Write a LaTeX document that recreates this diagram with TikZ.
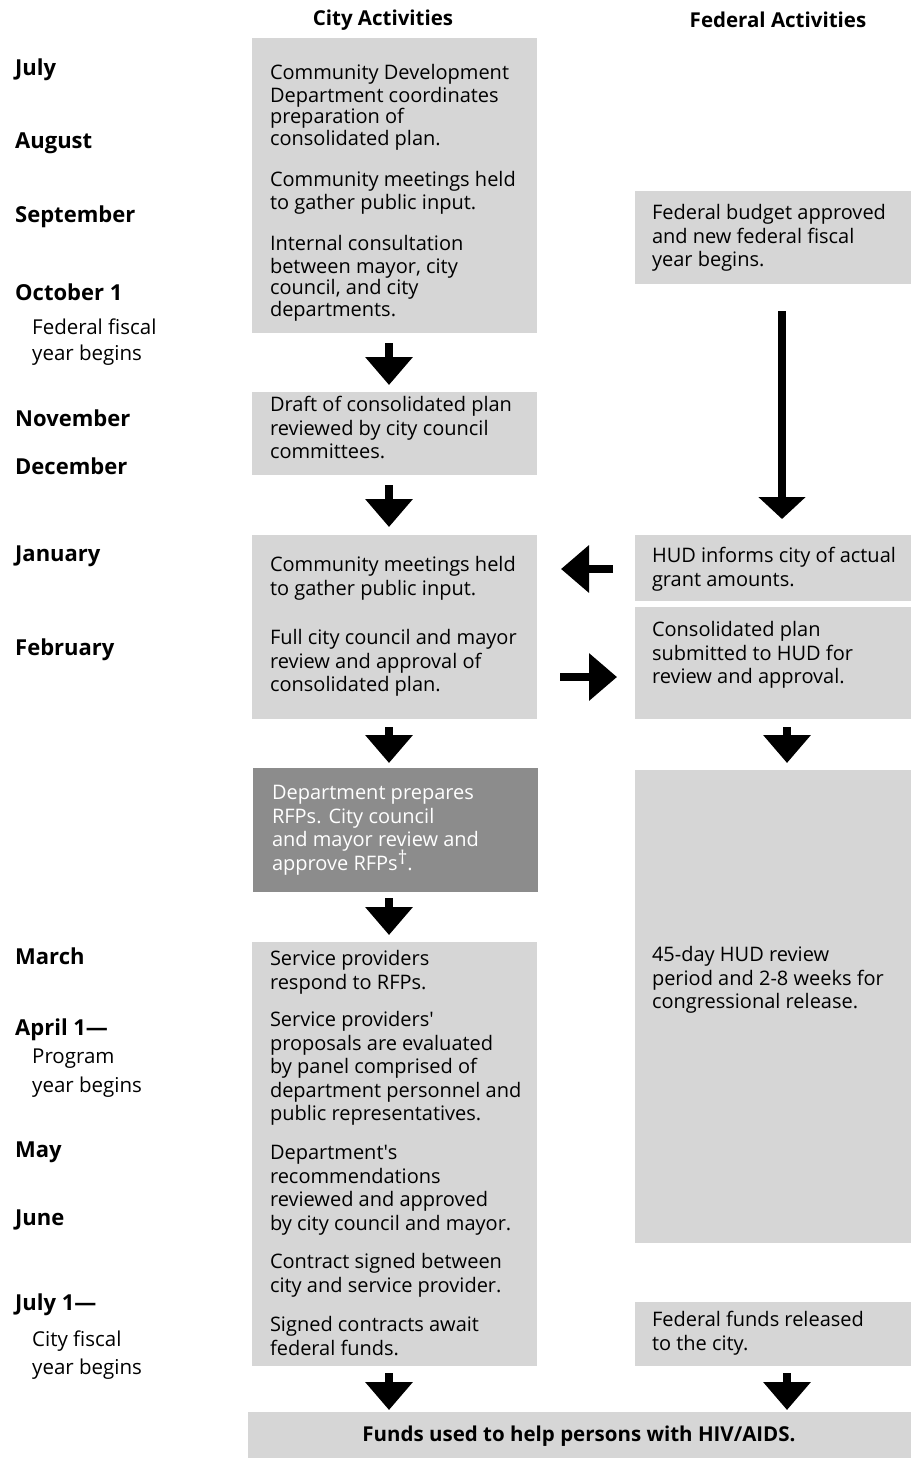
\documentclass[tikz,border=0pt]{standalone}
\usepackage{fontspec}
\setmainfont{Open Sans}
\usetikzlibrary{arrows.meta}
\definecolor{boxgray}{HTML}{D6D6D6}
\definecolor{darkbox}{HTML}{8C8C8C}
\tikzset{
  gbox/.style={fill=boxgray, draw=none, inner sep=0pt, outer sep=0pt, anchor=north west},
  dbox/.style={gbox, fill=darkbox},
  txtbase/.style={anchor=north west, inner sep=0pt, outer sep=0pt, align=left},
  txt/.style={txtbase, yshift=9.5pt, font=\fontsize{20}{23.5}\selectfont},
  txttight/.style={txtbase, yshift=8.5pt, font=\fontsize{20}{21.5}\selectfont},
  month/.style={anchor=west, inner sep=0pt, font=\fontsize{22}{24}\selectfont\bfseries},
  sublabel/.style={anchor=west, inner sep=0pt, font=\fontsize{20.5}{24}\selectfont},
  header/.style={inner sep=0pt, font=\fontsize{20.5}{24}\selectfont\bfseries},
  bigarrow/.style={line width=8pt, -{Triangle[width=46pt,length=28pt]}},
}
\begin{document}
\begin{tikzpicture}[x=1pt,y=-1pt]
\useasboundingbox (0,0) rectangle (911,1458);
% headers
\node[header] (hcity) at (383,20) {City Activities};
\node[header] (hfed) at (778,20) {Federal Activities};
% months
\node[month] (m1) at (15,70) {July};
\node[month] (m2) at (15,143) {August};
\node[month] (m3) at (15,217) {September};
\node[month] (m4) at (15,292) {October 1};
\node[sublabel] (s4a) at (32,327) {Federal fiscal};
\node[sublabel] (s4b) at (32,355) {year begins};
\node[month] (m5) at (15,418) {November};
\node[month] (m6) at (15,466) {December};
\node[month] (m7) at (15,556) {January};
\node[month] (m8) at (15,650) {February};
\node[month] (m9) at (15,956) {March};
\node[month] (m10) at (15,1030) {April 1—};
\node[sublabel] (s10a) at (32,1059) {Program};
\node[sublabel] (s10b) at (32,1087) {year begins};
\node[month] (m11) at (15,1152) {May};
\node[month] (m12) at (15,1220) {June};
\node[month] (m13) at (15,1305) {July 1—};
\node[sublabel] (s13a) at (32,1341) {City fiscal};
\node[sublabel] (s13b) at (32,1369) {year begins};
% city boxes
\node[gbox, minimum width=285pt, minimum height=295pt] (c1) at (252,38) {};
\node[gbox, minimum width=285pt, minimum height=83pt] (c2) at (252,392) {};
\node[gbox, minimum width=285pt, minimum height=184pt] (c3) at (252,535) {};
\node[dbox, minimum width=285pt, minimum height=124pt] (c4) at (253,768) {};
\node[gbox, minimum width=285pt, minimum height=424pt] (c5) at (252,942) {};
% federal boxes
\node[gbox, minimum width=276pt, minimum height=93pt] (f1) at (635,191) {};
\node[gbox, minimum width=276pt, minimum height=66pt] (f2) at (635,535) {};
\node[gbox, minimum width=276pt, minimum height=112pt] (f3) at (635,607) {};
\node[gbox, minimum width=276pt, minimum height=473pt] (f4) at (635,770) {};
\node[gbox, minimum width=276pt, minimum height=64pt] (f5) at (635,1302) {};
% bottom box
\node[gbox, minimum width=663pt, minimum height=46pt] (bot) at (248,1412) {};
\node[inner sep=0pt, font=\fontsize{20.5}{22}\selectfont\bfseries] (bott) at (579,1436) {Funds used to help persons with HIV/AIDS.};
% city texts
\node[txttight] (t1a) at (270,73) {\strut Community Development\\Department coordinates\\preparation of\\consolidated plan.};
\node[txttight] (t1b) at (270,180) {\strut Community meetings held\\to gather public input.};
\node[txttight] (t1c) at (270,244) {\strut Internal consultation\\between mayor, city\\council, and city\\departments.};
\node[txt] (t2) at (270,405) {\strut Draft of consolidated plan\\reviewed by city council\\committees.};
\node[txt] (t3a) at (270,565) {\strut Community meetings held\\to gather public input.};
\node[txt] (t3b) at (270,638) {\strut Full city council and mayor\\review and approval of\\consolidated plan.};
\node[txt, text=white] (t4) at (272,793) {\strut Department prepares\\RFPs. City council\\and mayor review and\\approve RFPs\smash{\raisebox{6pt}{\fontsize{19}{19}\selectfont\dag}}.};
\node[txt] (t5a) at (270,959) {\strut Service providers\\respond to RFPs.};
\node[txt] (t5b) at (270,1020) {\strut Service providers\textquotesingle\\proposals are evaluated\\by panel comprised of\\department personnel and\\public representatives.};
\node[txt] (t5c) at (270,1153) {\strut Department\textquotesingle s\\recommendations\\reviewed and approved\\by city council and mayor.};
\node[txt] (t5d) at (270,1262) {\strut Contract signed between\\city and service provider.};
\node[txt] (t5e) at (270,1325) {\strut Signed contracts await\\federal funds.};
% federal texts
\node[txt] (u1) at (652,213) {\strut Federal budget approved\\and new federal fiscal\\year begins.};
\node[txt] (u2) at (652,556) {\strut HUD informs city of actual\\grant amounts.};
\node[txt] (u3) at (652,630) {\strut Consolidated plan\\submitted to HUD for\\review and approval.};
\node[txt] (u4) at (652,955) {\strut 45-day HUD review\\period and 2-8 weeks for\\congressional release.};
\node[txt] (u5) at (652,1320) {\strut Federal funds released\\to the city.};
% arrow columns
\coordinate (cx) at (389,0);
\coordinate (fx) at (787,0);
\coordinate (fx2) at (782,0);
% city arrows
\draw[bigarrow, shorten <=10pt, shorten >=7pt] (c1.south -| cx) -- (c2.north -| cx);
\draw[bigarrow, shorten <=10pt, shorten >=8pt] (c2.south -| cx) -- (c3.north -| cx);
\draw[bigarrow, shorten <=8pt, shorten >=5pt] (c3.south -| cx) -- (c4.north -| cx);
\draw[bigarrow, shorten <=6pt, shorten >=7pt] (c4.south -| cx) -- (c5.north -| cx);
\draw[bigarrow, shorten <=7pt, shorten >=2pt] (c5.south -| cx) -- (bot.north -| cx);
% federal arrows
\draw[bigarrow, -{Triangle[width=46pt,length=22pt]}, shorten <=27pt, shorten >=16pt] (f1.south -| fx2) -- (f2.north -| fx2);
\draw[bigarrow, shorten <=8pt, shorten >=7pt] (f3.south -| fx) -- (f4.north -| fx);
\draw[bigarrow, shorten <=7pt, shorten >=2pt] (f5.south -| fx) -- (bot.north -| fx);
% horizontal arrows
\draw[bigarrow, shorten <=22pt, shorten >=24pt] ([yshift=-1pt]f2.west) -- ([yshift=-1pt]f2.west -| c3.east);
\draw[bigarrow, shorten <=23pt, shorten >=18pt] ([yshift=-14pt]c3.east |- f3.west) -- ([yshift=-14pt]f3.west);
\end{tikzpicture}
\end{document}
